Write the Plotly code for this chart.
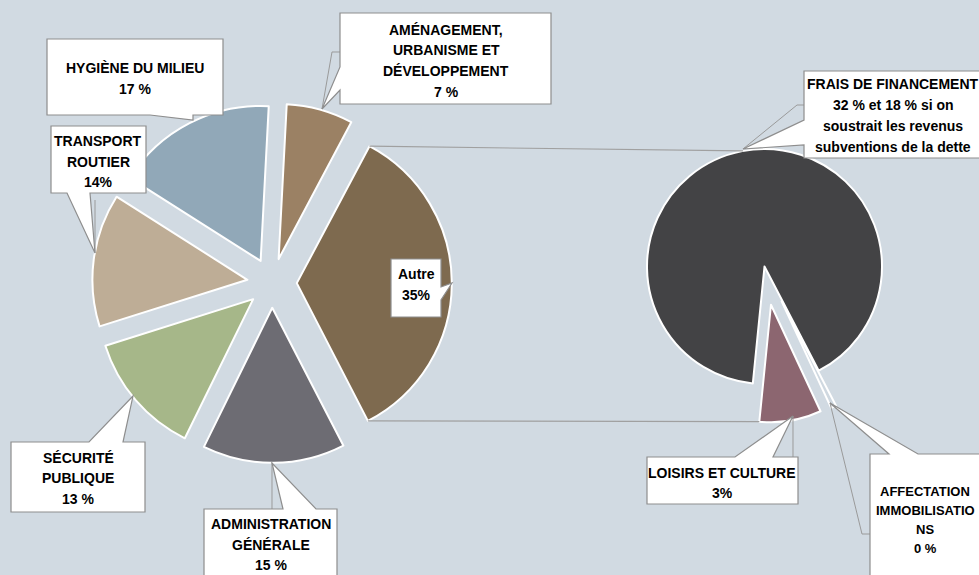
import math
import plotly.graph_objects as go

W, H = 979, 575

# ---------------- data ----------------
main_labels = ["AMÉNAGEMENT, URBANISME ET DÉVELOPPEMENT", "Autre",
               "ADMINISTRATION GÉNÉRALE", "SÉCURITÉ PUBLIQUE",
               "TRANSPORT ROUTIER", "HYGIÈNE DU MILIEU"]
main_values = [7, 35, 15, 13, 14, 17]

sub_labels = ["FRAIS DE FINANCEMENT", "AFFECTATION IMMOBILISATIONS", "LOISIRS ET CULTURE"]
sub_values = [32, 0.25, 3]

# callout texts (one list of lines per label)
label_lines = {
    "hyg": ["HYGIÈNE DU MILIEU", "17 %"],
    "ame": ["AMÉNAGEMENT,", "URBANISME ET", "DÉVELOPPEMENT", "7 %"],
    "tra": ["TRANSPORT", "ROUTIER", "14%"],
    "aut": ["Autre", "35%"],
    "sec": ["SÉCURITÉ", "PUBLIQUE", "13 %"],
    "adm": ["ADMINISTRATION", "GÉNÉRALE", "15 %"],
    "fra": ["FRAIS DE FINANCEMENT", "32 % et 18 % si on", "soustrait les revenus",
            "subventions de la dette"],
    "loi": ["LOISIRS ET CULTURE", "3%"],
    "aff": ["AFFECTATION", "IMMOBILISATIO", "NS", "0 %"],
}

# ---------------- styles ----------------
main_colors = ["#9B8164", "#7E6A4F", "#6D6C73", "#A6B789", "#BEAD96", "#91A8B8"]
sub_colors = ["#434345", "#CFD8E0", "#8C6670"]
BG = "#D1DAE2"
EDGE = "#8E8E8E"
FONT = "Liberation Sans Narrow, Arial Narrow, Liberation Sans, sans-serif"

# ---------------- geometry ----------------
L_C, L_R, L_PULL, L_ROT = (272.0, 283.0), 155.0, 0.16, 3.0
R_C, R_R, R_ROT = (764.5, 266.5), 117.5, 185.7
sub_pull = [0.0, 0.33, 0.33]


def domain(center, r, maxpull):
    h = r * (1 + maxpull)
    cx, cy = center
    return dict(x=[(cx - h) / W, (cx + h) / W], y=[1 - (cy + h) / H, 1 - (cy - h) / H])


def px(x, y):
    return x / W, 1 - y / H


def slice_angles(values, rot):
    tot = sum(values)
    out, a = [], rot
    for v in values:
        b = a + 360.0 * v / tot
        out.append((a, b))
        a = b
    return out


def corner(center, r, pull, a0, a1, ang):
    mid = math.radians((a0 + a1) / 2)
    ox = center[0] + pull * r * math.sin(mid)
    oy = center[1] - pull * r * math.cos(mid)
    t = math.radians(ang)
    return ox + r * math.sin(t), oy - r * math.cos(t)


fig = go.Figure()
fig.add_trace(go.Pie(
    labels=main_labels, values=main_values, sort=False, direction="clockwise",
    rotation=L_ROT, pull=[L_PULL] * len(main_values),
    marker=dict(colors=main_colors, line=dict(color="white", width=2)),
    textinfo="none", hoverinfo="label+percent", showlegend=False,
    domain=domain(L_C, L_R, L_PULL),
))
fig.add_trace(go.Pie(
    labels=sub_labels, values=sub_values, sort=False, direction="clockwise",
    rotation=R_ROT, pull=sub_pull,
    marker=dict(colors=sub_colors, line=dict(color="white", width=2)),
    textinfo="none", hoverinfo="label+percent", showlegend=False,
    domain=domain(R_C, R_R, max(sub_pull)),
))

shapes = []

# series lines from the "Autre" slice to the secondary pie
la = slice_angles(main_values, L_ROT)[1]
ra = slice_angles(sub_values, R_ROT)
p_top_l = corner(L_C, L_R, L_PULL, la[0], la[1], la[0])
p_bot_l = corner(L_C, L_R, L_PULL, la[0], la[1], la[1])
p_top_r = corner(R_C, R_R, 0.0, 0, 0, -10.5)
p_bot_r = corner(R_C, R_R, sub_pull[2], ra[2][0], ra[2][1], ra[2][1])
for a, b in [(p_top_l, p_top_r), (p_bot_l, p_bot_r)]:
    x0, y0 = px(*a)
    x1, y1 = px(*b)
    shapes.append(dict(type="line", xref="paper", yref="paper", x0=x0, y0=y0, x1=x1, y1=y1,
                       line=dict(color="#A0A0A0", width=1.2), layer="above"))

# callout outlines (box + pointer) in pixel space
callouts = {
    "hyg": [(47, 39), (223, 39), (223, 115), (193, 115), (193, 120), (150, 115), (47, 115)],
    "ame": [(340, 13), (551, 13), (551, 104), (340, 104), (340, 90), (322, 109), (340, 67)],
    "tra": [(51, 126), (146, 126), (146, 193), (90, 193), (95, 253), (67, 193), (51, 193)],
    "aut": [(391, 259), (441, 259), (441, 287), (452, 283), (441, 300), (441, 317), (391, 317)],
    "sec": [(11, 442), (89, 442), (133, 396), (123, 442), (145, 442), (145, 512), (11, 512)],
    "adm": [(204, 509), (283, 509), (272, 463), (316, 509), (337, 509), (337, 590), (204, 590)],
    "fra": [(804, 71), (990, 71), (990, 158), (804, 158), (804, 145), (743, 149), (804, 120)],
    "loi": [(647, 457), (735, 457), (793, 416), (773, 457), (798, 457), (798, 504), (647, 504)],
    "aff": [(870, 454), (889, 454), (830, 403), (918, 454), (990, 454), (990, 590), (870, 590)],
}
leaders = [
    [(95, 200), (95, 253)],
    [(322, 109), (332, 52), (340, 52)],
    [(272, 463), (272, 509)],
    [(743, 149), (797, 105), (804, 105)],
    [(793, 416), (793, 457)],
    [(830, 403), (862, 534), (870, 534)],
]
for pts in leaders:
    path = "M " + " L ".join("%.5f,%.5f" % px(x, y) for x, y in pts)
    shapes.append(dict(type="path", xref="paper", yref="paper", path=path,
                       line=dict(color="#9A9A9A", width=1), layer="above"))
for key, pts in callouts.items():
    path = "M " + " L ".join("%.5f,%.5f" % px(x, y) for x, y in pts) + " Z"
    shapes.append(dict(type="path", xref="paper", yref="paper", path=path,
                       fillcolor="white", line=dict(color=EDGE, width=1.2), layer="above"))

# text positions: (center x, first line y, line spacing, font size)
text_pos = {
    "hyg": (135, 68, 21, 14), "ame": (446, 30, 20.5, 14), "tra": (98, 141, 20.5, 14),
    "aut": (416, 274, 21, 14), "sec": (78, 458, 20.5, 14), "adm": (271, 524, 20.5, 14),
    "fra": (893, 84, 21, 14), "loi": (722, 473, 20, 14), "aff": (925, 491, 19, 13),
}
annotations = []
for key, lines in label_lines.items():
    cx, y0, dy, fs = text_pos[key]
    for i, t in enumerate(lines):
        x, y = px(cx, y0 + i * dy)
        annotations.append(dict(x=x, y=y, xref="paper", yref="paper", text=t,
                                showarrow=False, xanchor="center", yanchor="middle",
                                font=dict(family=FONT, size=fs, color="black", weight="bold")))

fig.update_layout(
    width=W, height=H, margin=dict(l=0, r=0, t=0, b=0),
    paper_bgcolor=BG, plot_bgcolor=BG,
    shapes=shapes, annotations=annotations, showlegend=False,
)
fig.write_html("out.html", config={"displayModeBar": False},
               post_script="document.body.style.margin='0px';")
